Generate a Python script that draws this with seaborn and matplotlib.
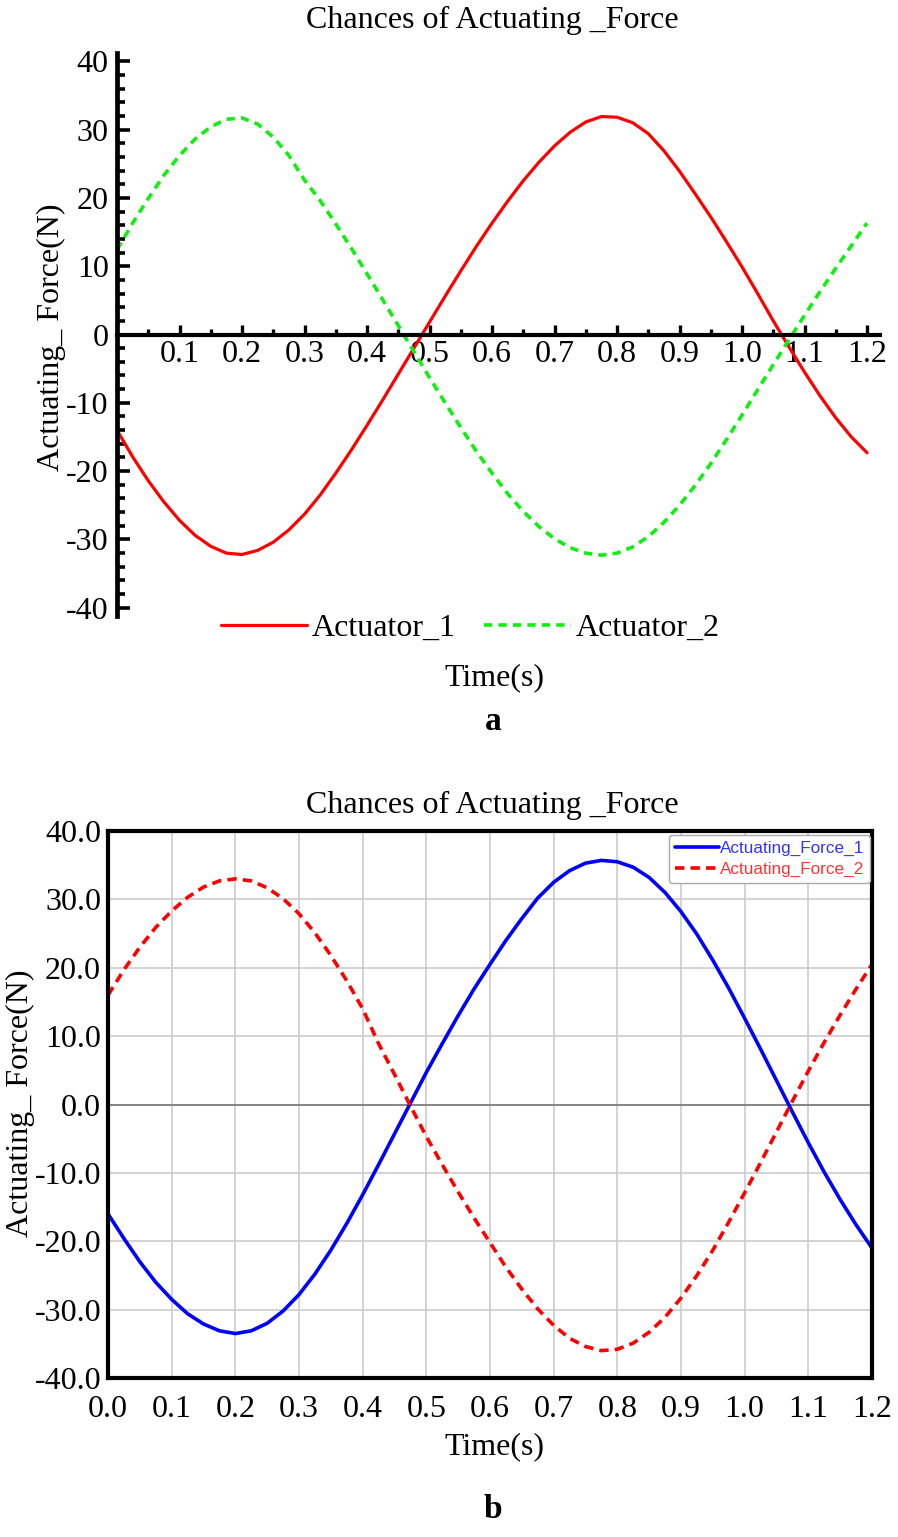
import numpy as np
import pandas as pd
import seaborn as sns
import matplotlib.pyplot as plt
from matplotlib.ticker import MultipleLocator, FixedLocator, FormatStrFormatter

sns.set_style("white")
plt.rcParams['font.family'] = ['Liberation Serif', 'DejaVu Serif']
plt.rcParams['axes.unicode_minus'] = False
for k in ['text.color', 'axes.labelcolor', 'xtick.color', 'ytick.color', 'axes.edgecolor']:
    plt.rcParams[k] = 'black'

#%% Data (0.025 s steps)

time_s = [i * 0.025 for i in range(49)]

# panel a
actuator_1 = [-14.0, -17.9, -21.4, -24.5, -27.2, -29.4, -31.0, -32.0, -32.2, -31.6,
              -30.4, -28.6, -26.3, -23.5, -20.3, -16.9, -13.3, -9.6, -5.8, -2.0,
              1.8, 5.6, 9.3, 12.9, 16.3, 19.5, 22.5, 25.2, 27.6, 29.6,
              31.1, 31.9, 31.8, 31.0, 29.4, 26.9, 23.9, 20.6, 17.2, 13.6,
              9.9, 6.0, 2.0, -1.8, -5.5, -9.0, -12.2, -15.0, -17.3]
actuator_2 = [12.4, 16.3, 19.9, 23.3, 26.2, 28.6, 30.4, 31.5, 31.7, 30.8,
              28.9, 26.2, 22.6, 19.6, 16.2, 12.6, 8.9, 5.1, 1.3, -2.5,
              -6.3, -10.0, -13.6, -17.1, -20.3, -23.3, -25.9, -28.1, -29.9, -31.2,
              -32.0, -32.3, -32.0, -31.1, -29.6, -27.5, -25.0, -22.1, -18.9, -15.4,
              -11.8, -8.1, -4.4, -0.8, 2.8, 6.3, 9.7, 13.0, 16.3]

# panel b
force_1 = [-16.0, -19.6, -23.0, -26.0, -28.5, -30.6, -32.1, -33.1, -33.5, -33.1,
           -32.0, -30.2, -27.8, -24.8, -21.3, -17.4, -13.2, -8.8, -4.3, 0.2,
           4.7, 8.9, 13.0, 16.9, 20.5, 24.0, 27.2, 30.2, 32.5, 34.2,
           35.3, 35.7, 35.5, 34.7, 33.2, 31.0, 28.2, 24.9, 21.1, 17.0,
           12.6, 8.1, 3.5, -1.1, -5.6, -9.9, -13.9, -17.6, -21.0]
force_2 = [16.0, 19.7, 23.0, 25.9, 28.3, 30.3, 31.8, 32.7, 33.0, 32.7,
           31.7, 30.1, 27.9, 25.1, 21.8, 18.1, 14.0, 8.9, 4.4, -0.2,
           -4.7, -8.8, -12.8, -16.6, -20.2, -23.8, -27.0, -29.9, -32.3, -34.2,
           -35.4, -36.0, -35.8, -34.9, -33.3, -31.1, -28.3, -25.0, -21.3, -17.2,
           -12.9, -8.5, -4.0, 0.5, 4.9, 9.1, 13.1, 16.9, 20.5]

title = "Chances of Actuating _Force"
ylab = "Actuating_ Force(N)"
xlab = "Time(s)"

df_a = pd.DataFrame({"t": time_s, "a1": actuator_1, "a2": actuator_2})
df_b = pd.DataFrame({"t": time_s, "f1": force_1, "f2": force_2})

W, H = 898, 1537
FS = 23
fig = plt.figure(figsize=(W / 100, H / 100), dpi=100)

#%% Panel a - Maple style axes through the origin

ax1 = fig.add_axes([117 / W, 1 - 616 / H, 762.5 / W, 563 / H])
sns.lineplot(data=df_a, x="t", y="a1", ax=ax1, color="#ff0000", lw=2.3,
             estimator=None, label="Actuator_1")
sns.lineplot(data=df_a, x="t", y="a2", ax=ax1, color="#11ee11", lw=2.6,
             estimator=None, linestyle=(0, (2.3, 1.7)), label="Actuator_2")
ax1.set_xlim(0, 1.22)
ax1.set_ylim(-41.2, 41.2)
for s in ["top", "right"]:
    ax1.spines[s].set_visible(False)
ax1.spines["left"].set_position(("data", 0))
ax1.spines["bottom"].set_position(("data", 0))
ax1.spines["left"].set_linewidth(3.4)
ax1.spines["bottom"].set_linewidth(3.0)
ax1.xaxis.set_major_locator(FixedLocator([round(0.1 * k, 1) for k in range(1, 13)]))
ax1.xaxis.set_minor_locator(FixedLocator([0.05 + 0.1 * k for k in range(12)]))
ax1.xaxis.set_major_formatter(FormatStrFormatter("%.1f"))
ax1.yaxis.set_major_locator(MultipleLocator(10))
ax1.yaxis.set_minor_locator(MultipleLocator(2))
ax1.yaxis.set_major_formatter(FormatStrFormatter("%d"))
ax1.tick_params(axis="x", which="both", bottom=True, direction="in", width=2.4)
ax1.tick_params(axis="x", which="major", length=7, labelsize=FS, pad=4)
ax1.tick_params(axis="x", which="minor", length=4)
ax1.tick_params(axis="y", which="both", left=True, direction="in", width=2.6)
ax1.tick_params(axis="y", which="major", length=9, labelsize=FS, pad=6)
ax1.tick_params(axis="y", which="minor", length=5.5)
ax1.set_xlabel(xlab, fontsize=FS)
ax1.xaxis.set_label_coords((494 - 117) / 762.5, (616 - 678) / 563)
ax1.xaxis.label.set_va("center")
ax1.set_ylabel(ylab, fontsize=FS)
ax1.yaxis.set_label_coords((51 - 117) / 762.5, (616 - 337) / 563)
ax1.yaxis.label.set_va("center")
leg1 = ax1.legend(loc="center", bbox_to_anchor=(470 / W, 1 - 628 / H),
                  bbox_transform=fig.transFigure, ncol=2, frameon=False,
                  fontsize=FS, handlelength=2.7, handletextpad=0.15,
                  columnspacing=0.9)
fig.text(492 / W, 1 - 20 / H, title, ha="center", va="center", fontsize=FS)
fig.text(493 / W, 1 - 722 / H, "a", ha="center", va="center", fontsize=24,
         fontweight="bold")

#%% Panel b - boxed axes with grid

ax2 = fig.add_axes([108 / W, 1 - 1378 / H, 764 / W, 547 / H])
ax2.set_xlim(0, 1.2)
ax2.set_ylim(-40, 40)
ax2.xaxis.set_major_locator(MultipleLocator(0.1))
ax2.yaxis.set_major_locator(MultipleLocator(10))
ax2.xaxis.set_major_formatter(FormatStrFormatter("%.1f"))
ax2.yaxis.set_major_formatter(FormatStrFormatter("%.1f"))
ax2.grid(True, color="#cccccc", lw=1.2)
ax2.axhline(0, color="#808080", lw=1.3, zorder=1.5)
sns.lineplot(data=df_b, x="t", y="f1", ax=ax2, color="#0000ff", lw=2.6,
             estimator=None, label="Actuating_Force_1")
sns.lineplot(data=df_b, x="t", y="f2", ax=ax2, color="#ff0000", lw=2.6,
             estimator=None, linestyle=(0, (2.6, 1.7)), label="Actuating_Force_2")
for s in ax2.spines.values():
    s.set_linewidth(3.0)
    s.set_color("black")
ax2.tick_params(axis="both", length=0, labelsize=FS)
ax2.tick_params(axis="x", pad=12)
ax2.tick_params(axis="y", pad=5)
ax2.set_xlabel(xlab, fontsize=FS)
ax2.xaxis.set_label_coords((494 - 108) / 764, (1378 - 1447) / 547)
ax2.xaxis.label.set_va("center")
ax2.set_ylabel(ylab, fontsize=FS)
ax2.yaxis.set_label_coords((20 - 108) / 764, (1378 - 1103) / 547)
ax2.yaxis.label.set_va("center")
leg2 = ax2.legend(loc="upper right", bbox_to_anchor=(0.997, 0.993),
                  prop={"family": "Liberation Sans", "size": 12.3},
                  handlelength=2.6, handletextpad=0.0, labelspacing=0.35,
                  borderpad=0.35, borderaxespad=0.0, framealpha=1,
                  edgecolor="#aaaaaa", fancybox=True)
leg2.get_frame().set_linewidth(1.0)
for txt, col in zip(leg2.get_texts(), ["#3333ff", "#ff3333"]):
    txt.set_color(col)
fig.text(492 / W, 1 - 805 / H, title, ha="center", va="center", fontsize=FS)
fig.text(493 / W, 1 - 1510 / H, "b", ha="center", va="center", fontsize=24,
         fontweight="bold")

fig.savefig("out.png", dpi=100)
